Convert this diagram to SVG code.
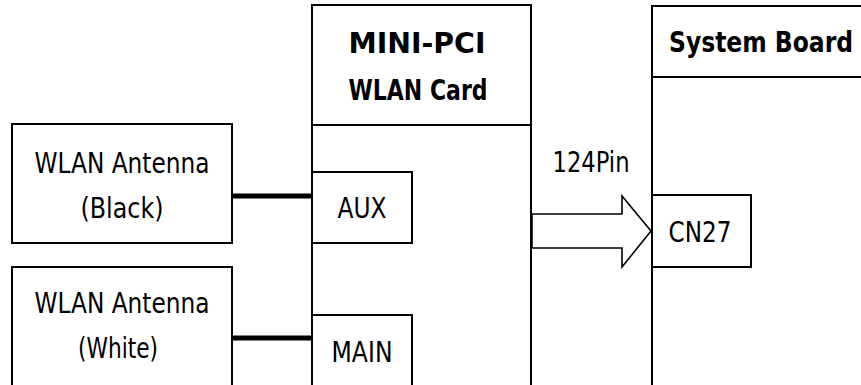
<svg xmlns="http://www.w3.org/2000/svg" width="861" height="385" viewBox="0 0 861 385">
<style>
.box{fill:#fff;stroke:#000;stroke-width:2}
.t{font-family:"DejaVu Sans",sans-serif;font-size:29px;fill:#000;text-anchor:middle}
.b{font-weight:bold;font-size:28px}
.wire{stroke:#000;stroke-width:5;fill:none}
.arrow{fill:#fff;stroke:#000;stroke-width:1.6;stroke-linejoin:miter}
</style>
<rect width="861" height="385" fill="#fff"/>
<g id="antenna-black">
<rect class="box" x="12" y="124" width="220" height="119"/>
<text class="t" x="122" y="173" textLength="175" lengthAdjust="spacingAndGlyphs">WLAN Antenna</text>
<text class="t" x="122" y="218" textLength="83" lengthAdjust="spacingAndGlyphs">(Black)</text>
</g>
<g id="antenna-white">
<rect class="box" x="12" y="267" width="220" height="130"/>
<text class="t" x="122" y="313" textLength="175" lengthAdjust="spacingAndGlyphs">WLAN Antenna</text>
<text class="t" x="118" y="358" textLength="80" lengthAdjust="spacingAndGlyphs">(White)</text>
</g>
<g id="mini-pci">
<rect class="box" x="312" y="5" width="219" height="392"/>
<line x1="312" y1="125" x2="531" y2="125" stroke="#000" stroke-width="2"/>
<text class="t b" x="417" y="53" textLength="137" lengthAdjust="spacingAndGlyphs">MINI-PCI</text>
<text class="t b" x="418" y="100" textLength="139" lengthAdjust="spacingAndGlyphs">WLAN Card</text>
</g>
<g id="aux">
<rect class="box" x="312" y="172" width="100" height="71"/>
<text class="t" x="362" y="218" textLength="49" lengthAdjust="spacingAndGlyphs">AUX</text>
</g>
<g id="main">
<rect class="box" x="312" y="315" width="100" height="82"/>
<text class="t" x="362" y="362" textLength="61" lengthAdjust="spacingAndGlyphs">MAIN</text>
</g>
<g id="system-board">
<rect class="box" x="652" y="6" width="230" height="391"/>
<line x1="652" y1="77" x2="870" y2="77" stroke="#000" stroke-width="2"/>
<text class="t b" x="761" y="52" textLength="184" lengthAdjust="spacingAndGlyphs">System Board</text>
</g>
<g id="cn27">
<rect class="box" x="652" y="195" width="99" height="72"/>
<text class="t" x="700" y="242" textLength="63" lengthAdjust="spacingAndGlyphs">CN27</text>
</g>
<g id="connectors">
<line class="wire" x1="232" y1="196" x2="312" y2="196"/>
<line class="wire" x1="232" y1="338" x2="312" y2="338"/>
<polygon class="arrow" points="532,214 622,214 622,196 651,231 622,267 622,248 532,248"/>
<text class="t" x="591" y="172" textLength="77" lengthAdjust="spacingAndGlyphs">124Pin</text>
</g>
</svg>
